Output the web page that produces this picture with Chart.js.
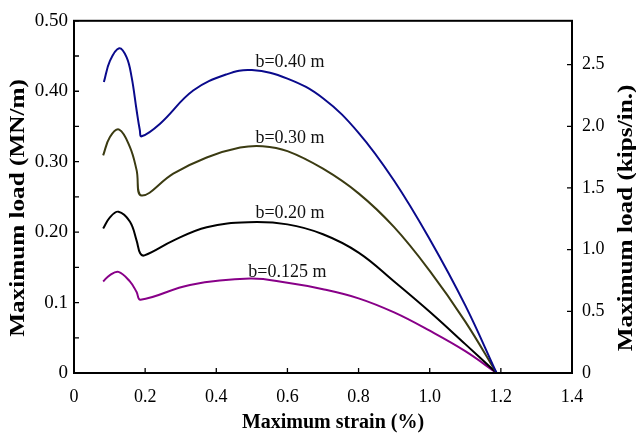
<!DOCTYPE html>
<html>
<head>
<meta charset="utf-8">
<script src="https://cdn.jsdelivr.net/npm/chart.js@4/dist/chart.umd.min.js"></script>
<style>
  html, body { margin: 0; background: #fff; }
  #wrap { width: 636px; height: 435px; }
</style>
</head>
<body>
<div id="wrap"><canvas id="myChart"></canvas></div>
<script>
// strain (%) and load (MN/m)
const strain40 = [0.084, 0.101, 0.127, 0.148, 0.162, 0.176, 0.185, 0.19, 0.242, 0.335, 0.429, 0.5, 0.6, 0.7, 0.8, 0.9, 1.0, 1.1, 1.188];
const load40   = [0.413, 0.443, 0.461, 0.448, 0.420, 0.373, 0.345, 0.336, 0.354, 0.401, 0.424, 0.430, 0.418, 0.390, 0.341, 0.273, 0.190, 0.096, 0];

const strain30 = [0.082, 0.101, 0.127, 0.157, 0.176, 0.19, 0.279, 0.373, 0.467, 0.53, 0.6, 0.7, 0.8, 0.9, 1.0, 1.1, 1.188];
const load30   = [0.309, 0.335, 0.3456, 0.321, 0.288, 0.252, 0.283, 0.306, 0.320, 0.322, 0.315, 0.290, 0.255, 0.207, 0.145, 0.073, 0];

const strain20 = [0.082, 0.101, 0.125, 0.157, 0.176, 0.186, 0.198, 0.279, 0.373, 0.49, 0.6, 0.7, 0.8, 0.9, 1.0, 1.1, 1.188];
const load20   = [0.205, 0.221, 0.229, 0.215, 0.188, 0.170, 0.167, 0.188, 0.207, 0.214, 0.211, 0.197, 0.171, 0.130, 0.087, 0.041, 0];

const strain125 = [0.082, 0.101, 0.125, 0.157, 0.176, 0.187, 0.326, 0.495, 0.6, 0.7, 0.8, 0.9, 1.0, 1.1, 1.188];
const load125   = [0.130, 0.139, 0.1435, 0.130, 0.115, 0.104, 0.125, 0.134, 0.128, 0.119, 0.106, 0.086, 0.060, 0.031, 0];

const curveNames = ["b=0.40 m", "b=0.30 m", "b=0.20 m", "b=0.125 m"];
const curveColors = ["#0a0a8c", "#3b3b12", "#000000", "#880088"];
const nameX = [0.51, 0.51, 0.51, 0.49];
const nameY = [0.4405, 0.3336, 0.2273, 0.1435];

const xTickLabels = ["0", "0.2", "0.4", "0.6", "0.8", "1.0", "1.2", "1.4"];
const yTickLabels = ["0", "0.1", "0.20", "0.30", "0.40", "0.50"];
const y2TickLabels = ["0", "0.5", "1.0", "1.5", "2.0", "2.5"];

const KIPS_PER_IN = 0.17513; // MN/m in one kip/in.

const toPts = (xs, ys) => xs.map((x, i) => ({ x: x, y: ys[i] }));

// title text; vertical ones read bottom to top, a bit stretched along their length
const axisTitle = (ctx, text, x, y, vertical) => {
  ctx.save();
  ctx.translate(x, y);
  if (vertical) {
    ctx.rotate(-Math.PI / 2);
    ctx.scale(1.2, 1);
    ctx.font = 'bold 21px "Liberation Serif"';
  } else {
    ctx.font = 'bold 20px "Liberation Serif"';
  }
  ctx.textAlign = "center";
  ctx.textBaseline = "middle";
  ctx.fillStyle = "#000";
  ctx.fillText(text, 0, 0);
  ctx.restore();
};

const frameAndTicks = {
  id: "frameAndTicks",
  afterDatasetsDraw(chart) {
    const { ctx, chartArea: a, scales } = chart;
    ctx.save();
    ctx.strokeStyle = "#000";
    ctx.lineWidth = 2;
    ctx.strokeRect(a.left, a.top, a.right - a.left, a.bottom - a.top);

    ctx.lineWidth = 1.3;
    ctx.beginPath();
    scales.x.ticks.forEach(t => {
      const px = scales.x.getPixelForValue(t.value);
      ctx.moveTo(px, a.bottom); ctx.lineTo(px, a.bottom - 5);
    });
    scales.y.ticks.forEach(t => {
      const py = scales.y.getPixelForValue(t.value);
      ctx.moveTo(a.left, py); ctx.lineTo(a.left + 5, py);
    });
    scales.y2.ticks.forEach(t => {
      const py = scales.y2.getPixelForValue(t.value);
      ctx.moveTo(a.right, py); ctx.lineTo(a.right - 5, py);
    });
    ctx.stroke();

    // curve names
    ctx.fillStyle = "#111";
    ctx.font = '18px "Liberation Serif"';
    ctx.textBaseline = "middle";
    curveNames.forEach((txt, i) => {
      ctx.fillText(txt, scales.x.getPixelForValue(nameX[i]), scales.y.getPixelForValue(nameY[i]));
    });
    ctx.restore();

    axisTitle(ctx, "Maximum strain (%)", 333, 423, false);
    axisTitle(ctx, "Maximum load (MN/m)", 19, 208, true);
    axisTitle(ctx, "Maximum load (kips/in.)", 627, 218, true);
  }
};

Chart.defaults.font.family = '"Liberation Serif", serif';
Chart.defaults.color = "#000";

const series = (i, xs, ys) => ({
  label: curveNames[i],
  data: toPts(xs, ys),
  borderColor: curveColors[i],
  borderWidth: 2,
  tension: 0.4,
  pointRadius: 0,
  fill: false
});

const ctx = document.getElementById("myChart").getContext("2d");
const chart = new Chart(ctx, {
  type: "line",
  data: {
    datasets: [
      series(0, strain40, load40),
      series(1, strain30, load30),
      series(2, strain20, load20),
      series(3, strain125, load125)
    ]
  },
  options: {
    responsive: true,
    maintainAspectRatio: false,
    animation: false,
    layout: { padding: { top: 20 } },
    plugins: { legend: { display: false }, tooltip: { enabled: false } },
    scales: {
      x: {
        type: "linear",
        min: 0, max: 1.4,
        grid: { display: false, tickLength: 0 },
        border: { display: false },
        ticks: {
          stepSize: 0.2,
          padding: 13,
          maxRotation: 0,
          font: { size: 18 },
          callback: (v) => xTickLabels[Math.round(v * 5)]
        },
        afterFit: s => { s.height = 62; }
      },
      y: {
        position: "left",
        min: 0, max: 0.5,
        grid: { display: false, tickLength: 0 },
        border: { display: false },
        ticks: {
          stepSize: 0.05,
          padding: 6,
          font: { size: 19 },
          callback: (v) => {
            const k = Math.round(v * 100);
            return k % 10 === 0 ? yTickLabels[k / 10] : "";
          }
        },
        afterFit: s => { s.width = 74; }
      },
      y2: {
        position: "right",
        min: 0, max: 0.5 / KIPS_PER_IN,
        grid: { display: false, tickLength: 0 },
        border: { display: false },
        ticks: {
          stepSize: 0.5,
          includeBounds: false,
          padding: 10,
          font: { size: 18 },
          callback: (v) => y2TickLabels[Math.round(v * 2)]
        },
        afterFit: s => { s.width = 64; }
      }
    }
  },
  plugins: [frameAndTicks]
});
</script>
</body>
</html>
